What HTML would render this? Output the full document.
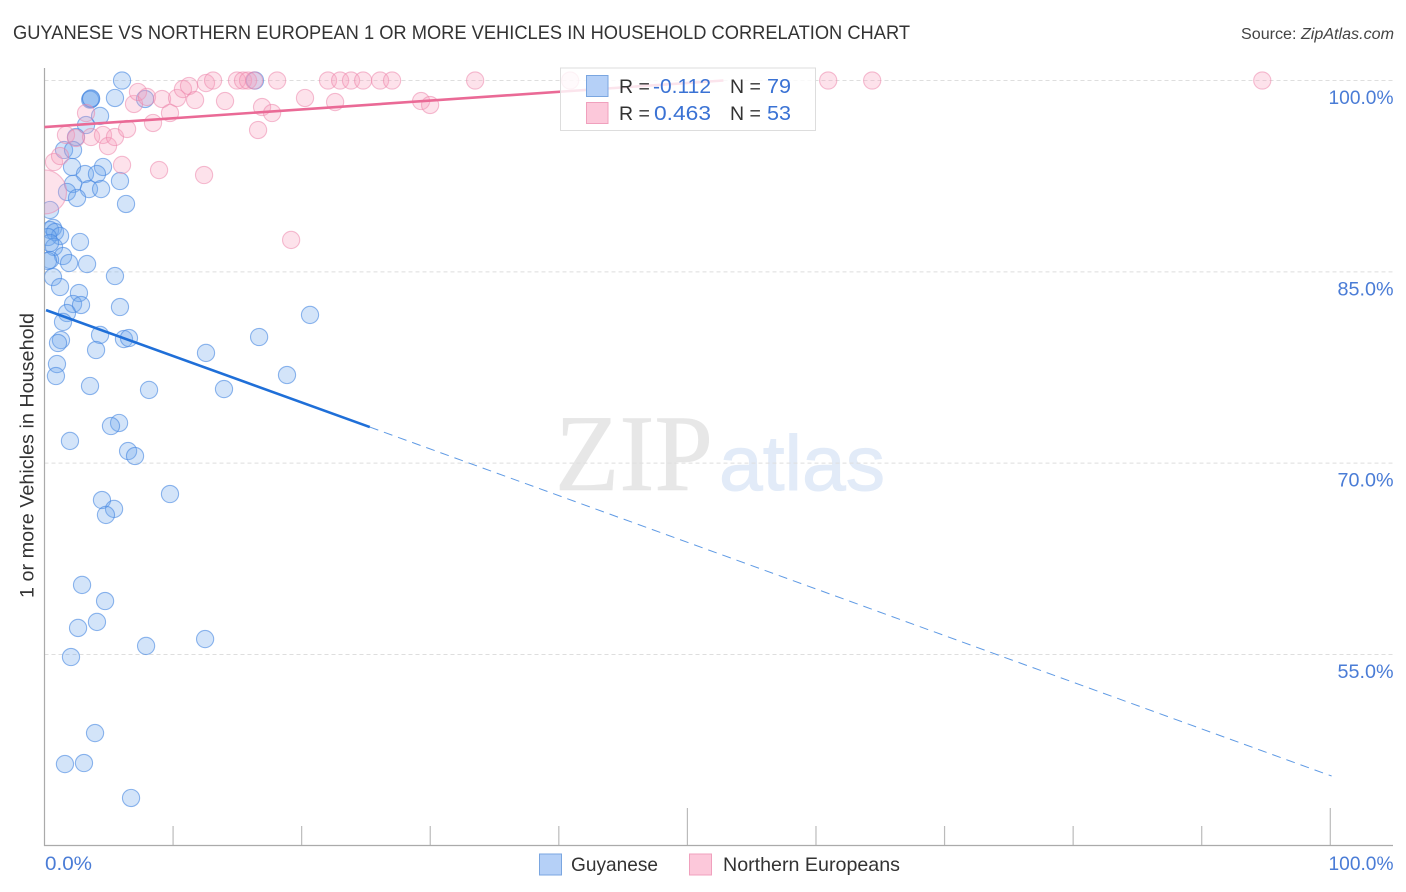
<!DOCTYPE html>
<html lang="en">
<head>
<meta charset="utf-8">
<title>Guyanese vs Northern European 1 or more Vehicles in Household Correlation Chart</title>
<style>
html,body{margin:0;padding:0;background:#fff;width:1406px;height:892px;overflow:hidden}
svg{display:block}
text{font-family:"Liberation Sans",sans-serif}
</style>
</head>
<body>
<svg id="chart" width="1406" height="892" viewBox="0 0 1406 892" xmlns="http://www.w3.org/2000/svg">
  <defs>
    <clipPath id="plot-clip"><rect x="44.5" y="60" width="1350" height="785"/></clipPath>
  </defs>
  <text x="13" y="39" font-size="19" fill="#333" textLength="897" lengthAdjust="spacingAndGlyphs">GUYANESE VS NORTHERN EUROPEAN 1 OR MORE VEHICLES IN HOUSEHOLD CORRELATION CHART</text>
  <text x="1241" y="39" font-size="15.5" fill="#444" textLength="153" lengthAdjust="spacingAndGlyphs">Source: <tspan font-style="italic">ZipAtlas.com</tspan></text>

  <g>
    <text x="555" y="490" font-size="109" fill="#e7e7e7" stroke="#e7e7e7" stroke-width="0.6" textLength="158" lengthAdjust="spacingAndGlyphs" style="font-family:'Liberation Serif',serif">ZIP</text>
    <text x="719" y="490" font-size="78" fill="#e2ebf8" stroke="#e2ebf8" stroke-width="1" textLength="166" lengthAdjust="spacingAndGlyphs">atlas</text>
  </g>

  <g id="grid"></g>
  <g id="ticks"></g>
  <line x1="44.5" y1="68" x2="44.5" y2="846" stroke="#aaa" stroke-width="1.2"/>
  <line x1="44" y1="845.5" x2="1393" y2="845.5" stroke="#aaa" stroke-width="1.2"/>

  <g id="blue-points" clip-path="url(#plot-clip)"></g>
  <g id="pink-points" clip-path="url(#plot-clip)"></g>
  <g id="trends"></g>

  <g id="y-labels"></g>
  <g id="x-labels"></g>

  <text transform="translate(33.5,598) rotate(-90)" font-size="19" fill="#333" textLength="285" lengthAdjust="spacingAndGlyphs">1 or more Vehicles in Household</text>

  <g>
    <rect x="560.5" y="68" width="255" height="62.5" fill="#fff" fill-opacity="0.82" stroke="#ddd" stroke-width="1"/>
    <rect x="586.5" y="75.5" width="21.5" height="21" fill="#b5d0f7" stroke="#7aa6e0" stroke-width="1"/>
    <rect x="586.5" y="102.5" width="21.5" height="21" fill="#fcc8da" stroke="#f0a0bd" stroke-width="1"/>
    <text x="619" y="93" font-size="19.5" fill="#333">R =</text>
    <text x="653" y="93" font-size="20.5" fill="#3a72d4" textLength="58" lengthAdjust="spacingAndGlyphs">-0.112</text>
    <text x="730" y="93" font-size="19.5" fill="#333">N =</text>
    <text x="767" y="93" font-size="20.5" fill="#3a72d4" textLength="24" lengthAdjust="spacingAndGlyphs">79</text>
    <text x="619" y="120" font-size="19.5" fill="#333">R =</text>
    <text x="654" y="120" font-size="20.5" fill="#3a72d4" textLength="57" lengthAdjust="spacingAndGlyphs">0.463</text>
    <text x="730" y="120" font-size="19.5" fill="#333">N =</text>
    <text x="767" y="120" font-size="20.5" fill="#3a72d4" textLength="24" lengthAdjust="spacingAndGlyphs">53</text>
  </g>

  <g>
    <rect x="539.5" y="854" width="22" height="21" fill="#b5d0f7" stroke="#7aa6e0" stroke-width="1"/>
    <text x="571" y="871" font-size="19.5" fill="#333" textLength="87" lengthAdjust="spacingAndGlyphs">Guyanese</text>
    <rect x="689.5" y="854" width="22" height="21" fill="#fcc8da" stroke="#f0a0bd" stroke-width="1"/>
    <text x="723" y="871" font-size="19.5" fill="#333" textLength="177" lengthAdjust="spacingAndGlyphs">Northern Europeans</text>
  </g>
</svg>
<script>
const yTickValues = [100, 85, 70, 55];
const xTickValues = [10, 20, 30, 40, 50, 60, 70, 80, 90, 100];
const xLabelValues = [0, 100];

const guyaneseX = [6.03,16.37,3.62,3.55,3.62,5.48,7.82,4.32,3.23,2.45,1.52,2.22,2.14,4.55,5.87,3.15,4.08,2.22,1.75,3.46,4.40,2.53,6.34,0.43,0.66,0.43,0.82,1.21,0.27,0.74,2.76,0.43,1.44,0.43,0.27,1.91,3.31,0.66,5.48,1.21,2.68,2.22,2.84,5.87,1.75,1.44,4.32,6.18,6.57,20.65,16.69,1.28,1.05,4.01,12.56,0.97,0.89,18.86,3.54,8.13,13.96,5.80,5.17,1.98,6.50,7.04,9.76,4.47,5.41,4.78,2.92,4.71,4.08,2.61,2.06,7.90,12.49,3.93,1.59,3.07,6.73];
const guyaneseY = [100,100,98.55,98.5,98.6,98.63,98.55,97.22,96.51,95.57,94.55,94.55,93.22,93.22,92.12,92.67,92.67,91.89,91.26,91.49,91.49,90.79,90.32,89.85,88.44,88.28,88.12,87.81,87.73,86.95,87.34,87.26,86.24,85.93,85.85,85.69,85.61,84.59,84.67,83.81,83.34,82.48,82.40,82.24,81.77,81.07,80.05,79.73,79.81,81.62,79.89,79.65,79.42,78.87,78.64,77.77,76.83,76.91,76.05,75.74,75.81,73.15,72.91,71.74,70.95,70.56,67.58,67.11,66.41,65.94,60.45,59.19,57.55,57.08,54.8,55.67,56.21,48.84,46.41,46.49,43.75];

const northernX = [0,0.74,1.21,1.67,2.45,3.23,3.62,4.55,4.94,5.48,6.42,6.96,7.27,7.97,9.14,8.44,9.76,10.31,10.77,11.24,11.71,12.56,13.11,14.04,14.97,15.44,15.83,16.3,16.92,17.7,16.61,18.09,20.26,22.05,22.6,22.99,23.84,24.78,26.1,27.03,29.29,29.99,33.49,40.88,60.95,64.37,94.71,6.03,8.91,12.41,19.18];
const northernY = [91.26,93.61,94.08,95.73,95.49,97.45,95.57,95.73,94.86,95.57,96.2,98.16,99.1,98.71,98.55,96.67,97.45,98.63,99.33,99.57,98.47,99.8,100,98.39,100,100,100,100,97.92,97.45,96.12,100,98.63,100,98.31,100,100,100,100,100,98.39,98.08,100,100,100,100,100,93.38,92.98,92.59,87.5];

const guyaneseTrendX = [0.12, 25.3, 100.1];
const guyaneseTrendY = [82.0, 72.83, 45.47];
const northernTrendX = [0, 52.8];
const northernTrendY = [96.35, 100];

const NS = 'http://www.w3.org/2000/svg';
function xScale(v) { return 44.5 + v * 12.858; }
function yScale(v) { return 80.5 + (100 - v) * 12.755; }
function svgEl(tag, parent, attrs) {
  const el = document.createElementNS(NS, tag);
  for (const k in attrs) el.setAttribute(k, attrs[k]);
  parent.appendChild(el);
  return el;
}
function labelWidth(s) { return s.length * 9 + 11; }

const gridG = document.getElementById('grid');
const yLabelG = document.getElementById('y-labels');
yTickValues.forEach(function (v) {
  const line = svgEl('line', gridG, {x1: 44.5, x2: 1393, y1: yScale(v), y2: yScale(v), stroke: '#dedede', 'stroke-width': 1, 'stroke-dasharray': '4 3'});
  
  
  const s = v.toFixed(1) + '%';
  const w = labelWidth(s);
  const t = svgEl('text', yLabelG, {x: 1393.5 - w, y: yScale(v) + 23.5, 'font-size': 19, fill: '#4a7cd6', textLength: w, lengthAdjust: 'spacingAndGlyphs'});
  t.textContent = s;
  
  
});

const tickG = document.getElementById('ticks');
xTickValues.forEach(function (v) {
  const top = v % 50 === 0 ? 808 : 826;
  const line = svgEl('line', tickG, {x1: xScale(v), x2: xScale(v), y1: top, y2: 845, stroke: '#bbb', 'stroke-width': 1.2});
  
  
});

const xLabelG = document.getElementById('x-labels');
xLabelValues.forEach(function (v) {
  const s = v.toFixed(1) + '%';
  const w = labelWidth(s);
  const t = svgEl('text', xLabelG, {x: v === 0 ? 45 : 1393.5 - w, y: 870, 'font-size': 19, fill: '#4a7cd6', textLength: w, lengthAdjust: 'spacingAndGlyphs'});
  t.textContent = s;
  
  
});

const blueG = document.getElementById('blue-points');
guyaneseX.forEach(function (v, i) {
  const c = svgEl('circle', blueG, {cx: xScale(v), cy: yScale(guyaneseY[i]), r: 8.6, fill: 'rgba(110,165,235,0.3)', stroke: 'rgba(70,135,225,0.6)', 'stroke-width': 1.1});
  
  
});

const pinkG = document.getElementById('pink-points');
northernX.forEach(function (v, i) {
  const c = svgEl('circle', pinkG, {cx: xScale(v), cy: yScale(northernY[i]), r: i === 0 ? 22 : 8.6, fill: 'rgba(247,160,190,0.3)', stroke: 'rgba(236,130,168,0.52)', 'stroke-width': 1.1});
  
  
});

const trendG = document.getElementById('trends');
const blueSolid = svgEl('line', trendG, {x1: xScale(guyaneseTrendX[0]), y1: yScale(guyaneseTrendY[0]), x2: xScale(guyaneseTrendX[1]), y2: yScale(guyaneseTrendY[1]), stroke: '#1f6fd8', 'stroke-width': 2.6});


const blueDashed = svgEl('line', trendG, {x1: xScale(guyaneseTrendX[1]), y1: yScale(guyaneseTrendY[1]), x2: xScale(guyaneseTrendX[2]), y2: yScale(guyaneseTrendY[2]), stroke: '#5f9ae4', 'stroke-width': 1, 'stroke-dasharray': '9 6'});


const pinkSolid = svgEl('line', trendG, {x1: xScale(northernTrendX[0]), y1: yScale(northernTrendY[0]), x2: xScale(northernTrendX[1]), y2: yScale(northernTrendY[1]), stroke: '#ea6a96', 'stroke-width': 2.6});


</script>
</body>
</html>
